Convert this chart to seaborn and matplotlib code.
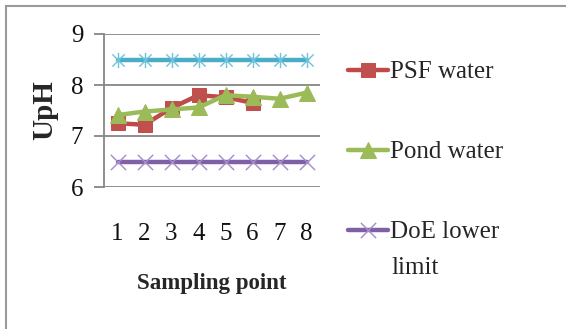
import matplotlib
matplotlib.use("Agg")
import matplotlib.pyplot as plt
import seaborn as sns
import pandas as pd
from matplotlib.path import Path
from matplotlib.patches import Rectangle

sns.set_theme(style="white")
plt.rcParams['font.family'] = ['Liberation Serif', 'DejaVu Serif']

sampling_points = [1, 2, 3, 4, 5, 6, 7, 8]
psf_points = [1, 2, 3, 4, 5, 6]
psf_water = [7.25, 7.22, 7.55, 7.8, 7.76, 7.65]
pond_water = [7.41, 7.48, 7.52, 7.56, 7.8, 7.77, 7.73, 7.85]
doe_upper = [8.5] * 8
doe_lower = [6.5] * 8
y_ticks = [6, 7, 8, 9]

fig = plt.figure(figsize=(5.66, 3.29), dpi=100)
ax = fig.add_axes([104/566, 1-187/329, 216/566, 153/329])

star = Path([(-1, -1), (1, 1), (-1, 1), (1, -1), (0, -1.25), (0, 1.25)],
            [Path.MOVETO, Path.LINETO, Path.MOVETO, Path.LINETO, Path.MOVETO, Path.LINETO])
xmark = Path([(-1, -1), (1, 1), (-1, 1), (1, -1)],
             [Path.MOVETO, Path.LINETO, Path.MOVETO, Path.LINETO])

df_up = pd.DataFrame({"x": sampling_points, "y": doe_upper})
df_psf = pd.DataFrame({"x": psf_points, "y": psf_water})
df_pond = pd.DataFrame({"x": sampling_points, "y": pond_water})
df_low = pd.DataFrame({"x": sampling_points, "y": doe_lower})

sns.lineplot(data=df_up, x="x", y="y", ax=ax, color="#4BACC6", linewidth=3.2,
             marker=star, markersize=11, markeredgecolor="#6CC3DA", markeredgewidth=1.0,
             markerfacecolor="none", label="_upper")
sns.lineplot(data=df_low, x="x", y="y", ax=ax, color="#7F5FA6", linewidth=3.2,
             marker=xmark, markersize=11, markeredgecolor="#A58BCB", markeredgewidth=1.0,
             markerfacecolor="none", label="DoE lower")
sns.lineplot(data=df_psf, x="x", y="y", ax=ax, color="#BE4B48", linewidth=3.2,
             marker="s", markersize=10.5, markeredgecolor="#C0504D", markerfacecolor="#C0504D",
             label="PSF water")
sns.lineplot(data=df_pond, x="x", y="y", ax=ax, color="#9BBB59", linewidth=3.2,
             marker="^", markersize=11.5, markeredgecolor="#9BBB59", markerfacecolor="#9BBB59",
             label="Pond water")

ax.set_xlim(0.5, 8.5)
ax.set_ylim(6, 9)
ax.set_yticks(y_ticks)
ax.set_xticks(sampling_points)
ax.set_xticklabels([str(v) for v in sampling_points])
ax.yaxis.grid(True, color="#868686", linewidth=1.3)
ax.xaxis.grid(False)
for s in ["top", "right", "bottom"]:
    ax.spines[s].set_visible(False)
ax.spines["left"].set_color("#868686")
ax.spines["left"].set_linewidth(1.3)
ax.tick_params(axis="y", length=7, width=1.3, color="#868686", labelsize=18, pad=8, left=True)
ax.tick_params(axis="x", length=0, labelsize=18, pad=26)
for t in ax.get_yticklabels() + ax.get_xticklabels():
    t.set_color("#111111")

ax.set_xlabel("Sampling point", fontsize=16.5, fontweight="bold", labelpad=20)
ax.set_ylabel("UpH", fontsize=21, fontweight="bold", labelpad=9)

handles, labels = ax.get_legend_handles_labels()
order = ["PSF water", "Pond water", "DoE lower"]
hmap = dict(zip(labels, handles))
leg = ax.legend([hmap[k] for k in order], order, loc="upper left",
                bbox_to_anchor=(348/566, 1-61/329), bbox_transform=fig.transFigure,
                frameon=False, fontsize=18, handlelength=1.6, handletextpad=0.1,
                labelspacing=2.3, borderaxespad=0, borderpad=0)
fig.text(391/566, 1-268/329, "limit", fontsize=18, va="center", ha="left", color="#222222")

fig.patches.append(Rectangle((6/566, -0.1), 1.2, 1 - 6/329 + 0.1, transform=fig.transFigure,
                             fill=False, edgecolor="#9a9a9a", linewidth=1.5))

fig.savefig("out.png", dpi=100)
